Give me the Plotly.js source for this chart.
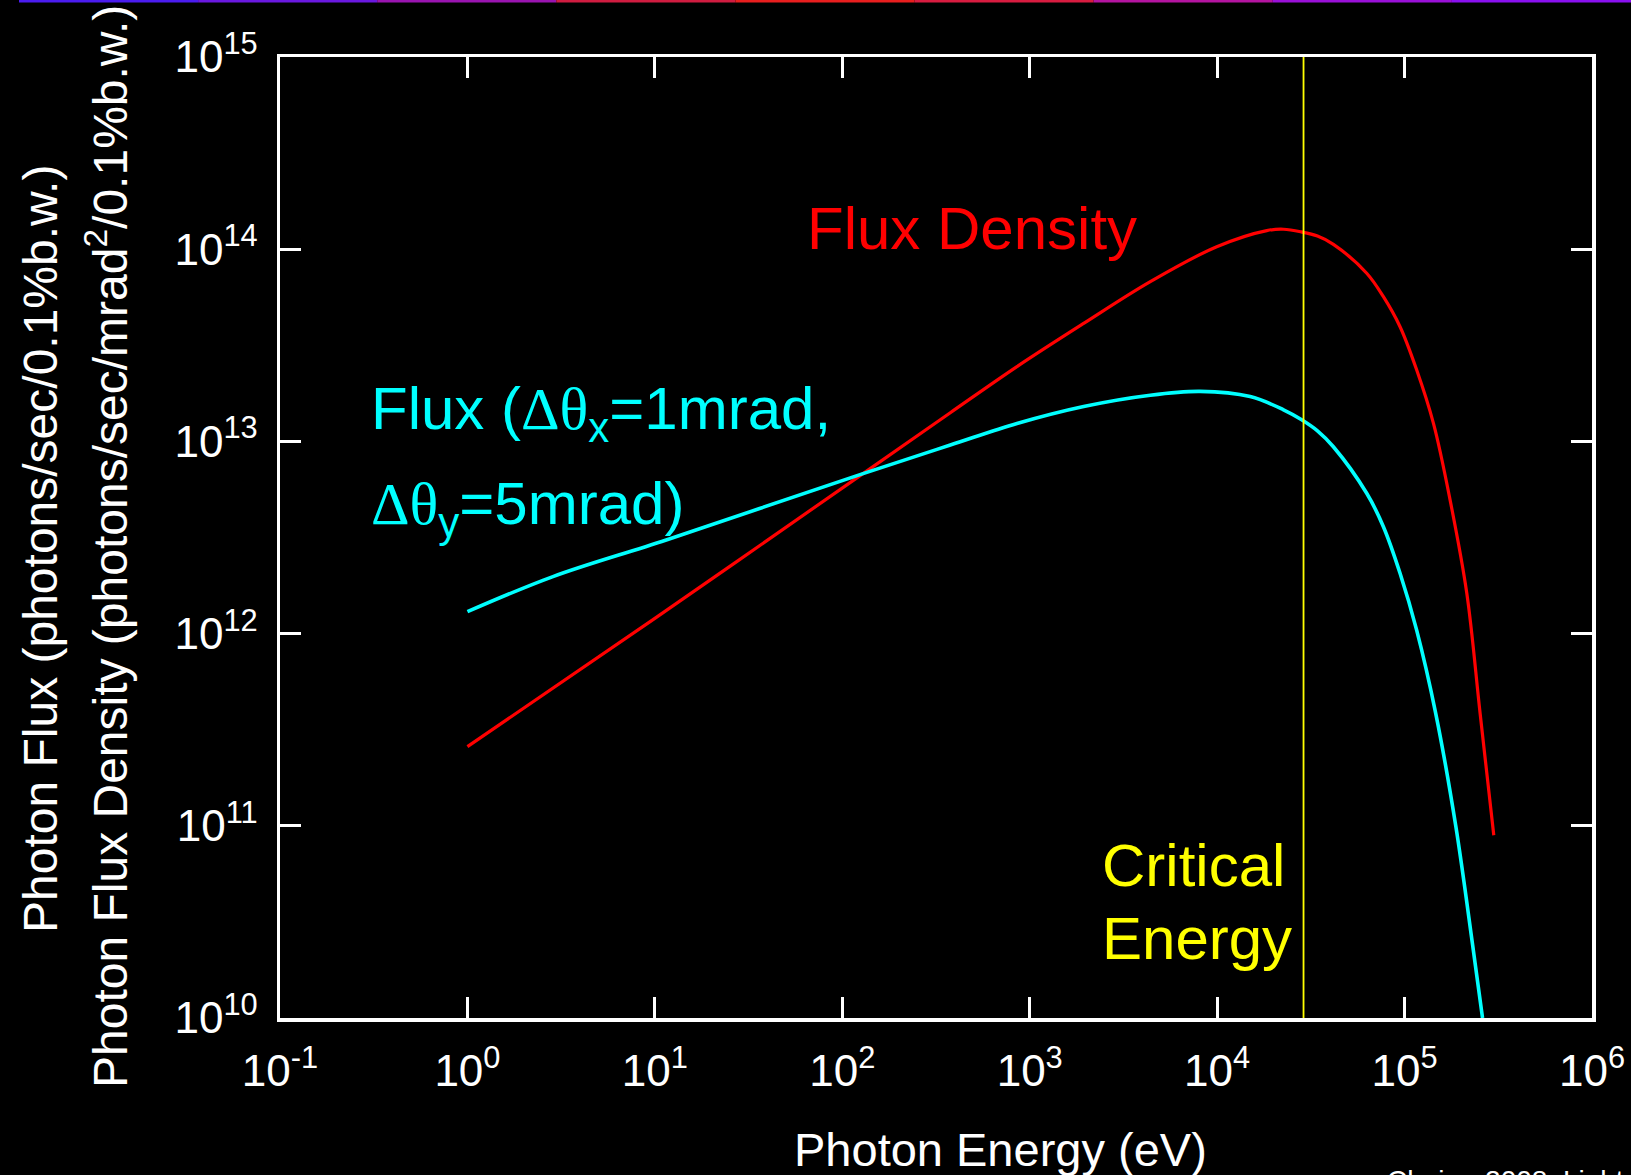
<!DOCTYPE html>
<html>
<head>
<meta charset="utf-8">
<script src="https://cdn.plot.ly/plotly-3.0.1.min.js"></script>
<style>
  html, body { margin: 0; padding: 0; background: #000; }
  #chart { width: 1631px; height: 1175px; }
</style>
</head>
<body>
<div id="chart"></div>
<script>
// ---- data ----
const energyDensity = [1, 10, 129, 377, 855, 1940, 4400, 9950, 18400, 22600, 28100, 34300, 41700, 62800, 77100, 94600, 116100, 142600, 175000, 214800, 252900, 299200];
const fluxDensity   = [2.58e11, 1.2e12, 6.8e12, 1.41e13, 2.45e13, 4.11e13, 6.78e13, 1.03e14, 1.25e14, 1.27e14, 1.23e14, 1.17e14, 1.06e14, 7.50e13, 5.66e13, 3.95e13, 2.35e13, 1.24e13, 4.95e12, 1.62e12, 3.85e11, 8.93e10];

const energyFlux = [1, 2.86, 11.5, 129, 377, 855, 1940, 4400, 8110, 15000, 22600, 28100, 34300, 41700, 62800, 77100, 94600, 116100, 146600, 187500, 230700, 260600];
const flux       = [1.3e12, 1.98e12, 3.07e12, 6.8e12, 9.57e12, 1.24e13, 1.52e13, 1.74e13, 1.82e13, 1.71e13, 1.46e13, 1.30e13, 1.135e13, 9.38e12, 5.37e12, 3.6e12, 2.06e12, 1.04e12, 3.85e11, 1.0e11, 2.4e10, 1.0e10];

const criticalEnergy = 28900;
const criticalSpan = [1e10, 1e15];

const xTickVals = [0.1, 1, 10, 100, 1e3, 1e4, 1e5, 1e6];
const xTickText = ['10<sup>-1</sup>', '10<sup>0</sup>', '10<sup>1</sup>', '10<sup>2</sup>', '10<sup>3</sup>', '10<sup>4</sup>', '10<sup>5</sup>', '10<sup>6</sup>'];
const yTickVals = [1e10, 1e11, 1e12, 1e13, 1e14, 1e15];
const yTickText = ['10<sup>10</sup>', '10<sup>11</sup>', '10<sup>12</sup>', '10<sup>13</sup>', '10<sup>14</sup>', '10<sup>15</sup>'];

const xTitle = 'Photon Energy (eV)';
const yTitle1 = 'Photon Flux (photons/sec/0.1%b.w.)';
const yTitle2 = 'Photon Flux Density (photons/sec/mrad<sup>2</sup>/0.1%b.w.)';
const labelDensity = 'Flux Density';
const labelFlux1 = 'Flux (<span style="font-family:Liberation Serif">Δθ</span><sub>x</sub>=1mrad,';
const labelFlux2 = '<span style="font-family:Liberation Serif">Δθ</span><sub>y</sub>=5mrad)';
const labelCrit1 = 'Critical';
const labelCrit2 = 'Energy';
const footer = 'Cheiron2008: Light Sources';

const topBarColors = ['#4b1cf0', '#6a18e0', '#9a14b0', '#d01c40', '#e81e1e', '#d81c40', '#b414a0', '#9a10d8', '#8a10f0'];

// ---- layout geometry (pixels) ----
const W = 1631, H = 1175;
const L = 280, R = 1592, T = 57, B = 1018;
const px2x = p => (p - L) / (R - L);
const px2y = p => (B - p) / (B - T);

const FONT = 'Liberation Sans, Arial, Helvetica, sans-serif';

const traces = [
  {
    x: energyDensity, y: fluxDensity, type: 'scatter', mode: 'lines',
    line: { color: '#ff0000', width: 3.2, shape: 'spline', smoothing: 1.0 },
    name: 'Flux Density', showlegend: false, hoverinfo: 'x+y'
  },
  {
    x: energyFlux, y: flux, type: 'scatter', mode: 'lines',
    line: { color: '#00ffff', width: 3.6, shape: 'spline', smoothing: 1.0 },
    name: 'Flux', showlegend: false, hoverinfo: 'x+y'
  },
  {
    x: [criticalEnergy, criticalEnergy], y: criticalSpan, type: 'scatter', mode: 'lines',
    line: { color: '#ffff00', width: 1.8 },
    name: 'Critical Energy', showlegend: false, hoverinfo: 'x'
  }
];

const annotations = [
  { text: labelDensity, x: px2x(805), y: px2y(229), xanchor: 'left', yanchor: 'middle',
    font: { family: FONT, size: 60, color: '#ff0000' } },
  { text: labelFlux1, x: px2x(369), y: px2y(413), xanchor: 'left', yanchor: 'middle',
    font: { family: FONT, size: 60, color: '#00ffff' } },
  { text: labelFlux2, x: px2x(369), y: px2y(508), xanchor: 'left', yanchor: 'middle',
    font: { family: FONT, size: 60, color: '#00ffff' } },
  { text: labelCrit1, x: px2x(1100), y: px2y(865), xanchor: 'left', yanchor: 'middle',
    font: { family: FONT, size: 60, color: '#ffff00' } },
  { text: labelCrit2, x: px2x(1100), y: px2y(938), xanchor: 'left', yanchor: 'middle',
    font: { family: FONT, size: 60, color: '#ffff00' } },
  { text: xTitle, x: px2x(1000), y: px2y(1149), xanchor: 'center', yanchor: 'middle',
    font: { family: FONT, size: 47, color: '#ffffff' } },
  { text: yTitle1, x: px2x(40), y: px2y(549), xanchor: 'center', yanchor: 'middle', textangle: -90,
    font: { family: FONT, size: 48, color: '#ffffff' } },
  { text: yTitle2, x: px2x(107), y: px2y(547), xanchor: 'center', yanchor: 'middle', textangle: -90,
    font: { family: FONT, size: 48, color: '#ffffff' } },
  { text: footer, x: px2x(1385), y: px2y(1163), xanchor: 'left', yanchor: 'top',
    font: { family: FONT, size: 28, color: '#ffffff' } }
].map(a => Object.assign({ xref: 'paper', yref: 'paper', showarrow: false }, a));

const shapes = [];
const barStart = 19, barEnd = W;
const segW = (barEnd - barStart) / topBarColors.length;
topBarColors.forEach((c, i) => {
  shapes.push({
    type: 'line', xref: 'paper', yref: 'paper',
    x0: px2x(barStart + i * segW), x1: px2x(barStart + (i + 1) * segW),
    y0: px2y(1), y1: px2y(1),
    line: { color: c, width: 3 }
  });
});

const axisCommon = {
  type: 'log', showgrid: false, zeroline: false,
  showline: true, linecolor: '#ffffff', linewidth: 3.5, mirror: 'ticks',
  ticks: 'inside', ticklen: 21, tickwidth: 3, tickcolor: '#ffffff',
  tickmode: 'array',
  tickfont: { family: FONT, size: 44, color: '#ffffff' }
};

const layout = {
  width: W, height: H,
  paper_bgcolor: '#000000', plot_bgcolor: '#000000',
  margin: { l: L, r: W - R, t: T, b: H - B, pad: 0 },
  showlegend: false,
  xaxis: Object.assign({}, axisCommon, {
    range: [-1, 6], tickvals: xTickVals, ticktext: xTickText, ticklabelstandoff: 12
  }),
  yaxis: Object.assign({}, axisCommon, {
    range: [10, 15], tickvals: yTickVals, ticktext: yTickText, ticklabelstandoff: 10
  }),
  annotations: annotations,
  shapes: shapes
};

Plotly.newPlot('chart', traces, layout, { displayModeBar: false, staticPlot: true });
</script>
</body>
</html>
